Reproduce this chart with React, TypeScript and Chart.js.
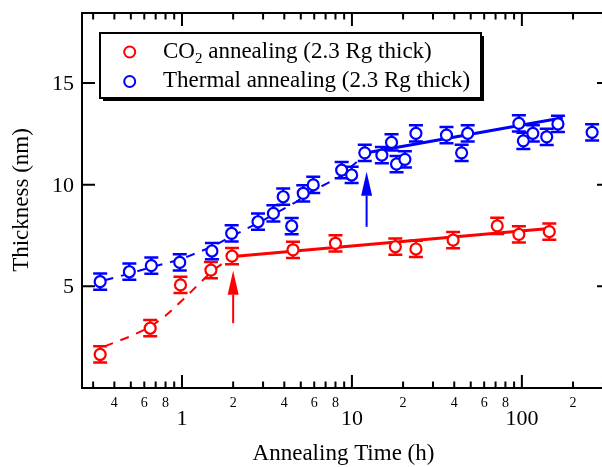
import React, { useEffect, useRef } from "react";
import { Chart, registerables } from "chart.js";
Chart.register(...registerables);

// ---- data ----
const co2Time = [0.33, 0.65, 0.98, 1.48, 1.97, 4.5, 8.0, 18, 23.8, 39.4, 71.6, 96, 145];
const co2Thick = [1.65, 2.94, 5.07, 5.8, 6.49, 6.8, 7.12, 6.95, 6.84, 7.28, 7.98, 7.56, 7.69];
const co2Err = [0.4, 0.4, 0.4, 0.4, 0.4, 0.4, 0.4, 0.4, 0.4, 0.4, 0.4, 0.4, 0.4];

const thermalTime = [0.33, 0.49, 0.66, 0.97, 1.5, 1.96, 2.8, 3.45, 3.94, 4.42, 5.17, 5.92, 8.7, 9.96, 11.9, 15, 17.1, 18.3, 20.5, 23.8, 36, 44.2, 48, 96, 102, 116, 140, 163, 259];
const thermalThick = [5.23, 5.72, 6.02, 6.18, 6.74, 7.61, 8.18, 8.59, 9.41, 7.97, 9.58, 9.99, 10.72, 10.48, 11.57, 11.46, 12.08, 11.02, 11.25, 12.53, 12.44, 11.57, 12.53, 13.02, 12.16, 12.53, 12.36, 12.99, 12.58];
const thermalErr = [0.4, 0.4, 0.4, 0.4, 0.4, 0.4, 0.4, 0.4, 0.4, 0.4, 0.4, 0.4, 0.4, 0.4, 0.4, 0.4, 0.4, 0.4, 0.4, 0.4, 0.4, 0.4, 0.4, 0.4, 0.4, 0.4, 0.4, 0.4, 0.4];

const co2DashTime = [0.35, 0.5, 0.65, 0.8, 1.0, 1.2, 1.5, 2.0];
const co2DashThick = [2.05, 2.55, 3.0, 3.55, 4.3, 4.95, 5.75, 6.5];
const co2FitTime = [2, 150];
const co2FitThick = [6.47, 7.86];

const thermalDashTime = [0.35, 0.5, 0.7, 1.0, 1.5, 2.0, 3.0, 4.7, 5.9, 7.1, 8.3, 10.5, 12];
const thermalDashThick = [5.3, 5.65, 6.0, 6.35, 6.95, 7.5, 8.25, 9.16, 9.72, 10.05, 10.35, 11.07, 11.5];
const thermalFitTime = [12, 174];
const thermalFitThick = [11.56, 13.3];

// arrows: time, tip thickness, tail thickness
const arrowTime = [2, 12.2];
const arrowTip = [5.77, 10.64];
const arrowTail = [3.19, 7.93];

const yTicks = [5, 10, 15];
const xMajor = [1, 10, 100];
const xMinorLabelled = [2, 4, 6, 8];

const legendLabels = ["CO", "Thermal annealing (2.3 Rg thick)"];
const xTitle = "Annealing Time (h)";
const yTitle = "Thickness (nm)";

const RED = "#ff0000";
const BLUE = "#0000ff";
const arrowColors = [RED, BLUE];
const FONT = '"Liberation Serif", "Times New Roman", serif';

const pts = (xs: number[], ys: number[]) => xs.map((x, i) => ({ x, y: ys[i] }));

const decor = {
  id: "decor",
  beforeDatasetsDraw(chart: any) {
    const ctx = chart.ctx;
    const xs = chart.scales.x;
    const ys = chart.scales.y;
    const sets: [number[], number[], number[], string][] = [
      [co2Time, co2Thick, co2Err, RED],
      [thermalTime, thermalThick, thermalErr, BLUE],
    ];
    ctx.save();
    ctx.lineWidth = 2.5;
    for (const [t, v, e, c] of sets) {
      ctx.strokeStyle = c;
      t.forEach((tt, i) => {
        const x = xs.getPixelForValue(tt);
        const y1 = ys.getPixelForValue(v[i] + e[i]);
        const y2 = ys.getPixelForValue(v[i] - e[i]);
        ctx.beginPath();
        ctx.moveTo(x, y1);
        ctx.lineTo(x, y2);
        ctx.moveTo(x - 7, y1);
        ctx.lineTo(x + 7, y1);
        ctx.moveTo(x - 7, y2);
        ctx.lineTo(x + 7, y2);
        ctx.stroke();
      });
    }
    ctx.restore();
  },
  afterDraw(chart: any) {
    const ctx = chart.ctx;
    const xs = chart.scales.x;
    const ys = chart.scales.y;
    const a = chart.chartArea;
    ctx.save();
    // arrows
    arrowTime.forEach((t, i) => {
      const x = xs.getPixelForValue(t);
      const yt = ys.getPixelForValue(arrowTip[i]);
      const yb = ys.getPixelForValue(arrowTail[i]);
      const hb = yt + 24;
      ctx.strokeStyle = arrowColors[i];
      ctx.fillStyle = arrowColors[i];
      ctx.lineWidth = 2;
      ctx.beginPath();
      ctx.moveTo(x, yb);
      ctx.lineTo(x, hb);
      ctx.stroke();
      ctx.beginPath();
      ctx.moveTo(x, yt);
      ctx.lineTo(x - 5.5, hb);
      ctx.lineTo(x + 5.5, hb);
      ctx.closePath();
      ctx.fill();
    });
    // frame
    ctx.strokeStyle = "#000";
    ctx.lineWidth = 2;
    ctx.strokeRect(a.left, a.top, a.right - a.left, a.bottom - a.top);
    // y ticks
    ctx.fillStyle = "#000";
    ctx.font = `22px ${FONT}`;
    ctx.textAlign = "right";
    ctx.textBaseline = "middle";
    yTicks.forEach((v) => {
      const y = ys.getPixelForValue(v);
      ctx.beginPath();
      ctx.moveTo(a.left, y);
      ctx.lineTo(a.left + 13, y);
      ctx.moveTo(a.right, y);
      ctx.lineTo(a.right - 13, y);
      ctx.stroke();
      ctx.fillText(String(v), a.left - 8, y + 1);
    });
    // x ticks
    ctx.textAlign = "center";
    for (const d of [0.1, 1, 10, 100]) {
      for (let k = 1; k <= 9; k++) {
        const v = k * d;
        if (v < xs.min || v > xs.max) continue;
        const x = xs.getPixelForValue(v);
        const len = k === 1 ? 13 : 6.5;
        ctx.beginPath();
        ctx.moveTo(x, a.bottom);
        ctx.lineTo(x, a.bottom - len);
        ctx.moveTo(x, a.top);
        ctx.lineTo(x, a.top + len);
        ctx.stroke();
        if (k === 1 && xMajor.includes(Math.round(v))) {
          ctx.font = `22px ${FONT}`;
          ctx.fillText(String(Math.round(v)), x, a.bottom + 31);
        } else if (xMinorLabelled.includes(k)) {
          ctx.font = `14px ${FONT}`;
          ctx.fillText(String(k), x, a.bottom + 15);
        }
      }
    }
    // axis titles
    ctx.font = `23px ${FONT}`;
    ctx.fillText(xTitle, 343.5, 454);
    ctx.save();
    ctx.translate(22, 200);
    ctx.rotate(-Math.PI / 2);
    ctx.fillText(yTitle, 0, 0);
    ctx.restore();
    // legend
    const L = 100, T = 33, R = 481, B = 98;
    ctx.fillStyle = "#000";
    ctx.fillRect(L + 3, T + 3, R - L, B - T);
    ctx.fillStyle = "#fff";
    ctx.fillRect(L, T, R - L, B - T);
    ctx.strokeStyle = "#000";
    ctx.lineWidth = 2;
    ctx.strokeRect(L, T, R - L, B - T);
    const rows = [52, 81.5];
    const cols = [RED, BLUE];
    rows.forEach((y, i) => {
      ctx.beginPath();
      ctx.arc(129.7, y, 5.5, 0, Math.PI * 2);
      ctx.strokeStyle = cols[i];
      ctx.lineWidth = 2;
      ctx.stroke();
    });
    ctx.fillStyle = "#000";
    ctx.textAlign = "left";
    ctx.textBaseline = "alphabetic";
    ctx.font = `23px ${FONT}`;
    ctx.fillText(legendLabels[0], 163, 58);
    let w = ctx.measureText(legendLabels[0]).width;
    ctx.font = `15px ${FONT}`;
    ctx.fillText("2", 163 + w, 63);
    w += ctx.measureText("2").width;
    ctx.font = `23px ${FONT}`;
    ctx.fillText(" annealing (2.3 Rg thick)", 163 + w, 58);
    ctx.fillText(legendLabels[1], 163, 87);
    ctx.restore();
  },
};

export default function App() {
  const ref = useRef<HTMLCanvasElement>(null);
  useEffect(() => {
    const canvas = ref.current!;
    const pointStyle = (c: string) => ({
      showLine: false,
      pointRadius: 5.5,
      pointBorderWidth: 2.2,
      pointBorderColor: c,
      pointBackgroundColor: "#fff",
      borderColor: c,
      backgroundColor: "#fff",
    });
    const lineStyle = (c: string, dash: number[], w: number) => ({
      showLine: true,
      pointRadius: 0,
      borderColor: c,
      borderWidth: w,
      borderDash: dash,
      tension: 0,
      fill: false,
    });
    const chart = new Chart(canvas, {
      type: "scatter",
      data: {
        datasets: [
          { label: "CO2 annealing (2.3 Rg thick)", data: pts(co2Time, co2Thick), ...pointStyle(RED) },
          { label: "Thermal annealing (2.3 Rg thick)", data: pts(thermalTime, thermalThick), ...pointStyle(BLUE) },
          { label: "co2 dash", data: pts(co2DashTime, co2DashThick), ...lineStyle(RED, [9, 8], 2) },
          { label: "co2 fit", data: pts(co2FitTime, co2FitThick), ...lineStyle(RED, [], 3) },
          { label: "thermal dash", data: pts(thermalDashTime, thermalDashThick), ...lineStyle(BLUE, [9, 8], 2) },
          { label: "thermal fit", data: pts(thermalFitTime, thermalFitThick), ...lineStyle(BLUE, [], 3) },
        ] as any,
      },
      options: {
        responsive: false,
        animation: false,
        devicePixelRatio: 1,
        layout: { padding: { left: 82, top: 13, right: 10, bottom: 79 } },
        plugins: { legend: { display: false }, tooltip: { enabled: false } },
        scales: {
          x: { type: "logarithmic", min: 0.258, max: 330, display: false },
          y: { type: "linear", min: 0, max: 18.45, display: false },
        },
      } as any,
      plugins: [decor],
    });
    return () => chart.destroy();
  }, []);
  return (
    <div style={{ position: "fixed", left: 0, top: 0, width: 602, height: 467, overflow: "hidden", background: "#fff" }}>
      <canvas ref={ref} width={620} height={467} style={{ display: "block", width: 620, height: 467 }} />
    </div>
  );
}
